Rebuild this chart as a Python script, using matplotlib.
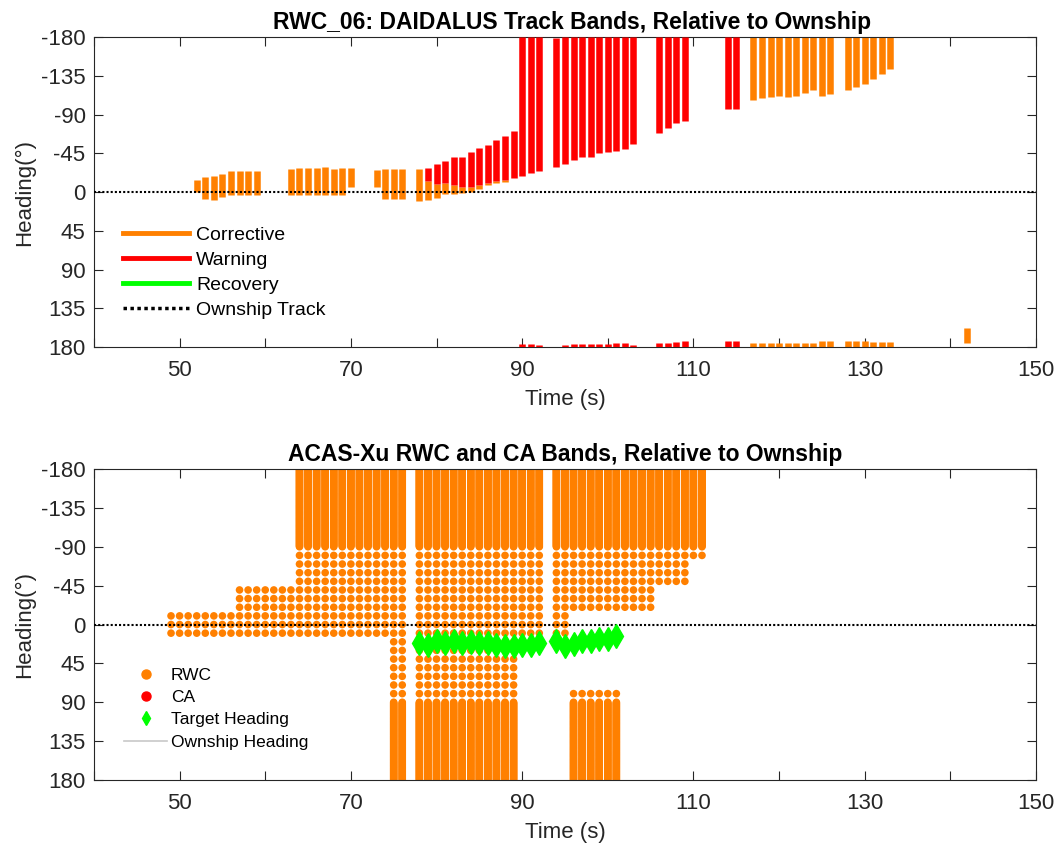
import numpy as np
import matplotlib
matplotlib.use('Agg')
import matplotlib.pyplot as plt
from matplotlib.lines import Line2D

plt.rcParams['font.family'] = ['Liberation Sans', 'DejaVu Sans']
plt.rcParams['axes.unicode_minus'] = False

# DAIDALUS corrective bands (one row per band): time, lower, upper heading
corr_time = [52, 53, 54, 55, 56, 57, 58, 59,
             63, 64, 65, 66, 67, 68, 69, 70,
             73, 74, 75, 76, 78,
             79, 80, 81, 82, 83, 84, 85, 86, 87, 88,
             117, 118, 119, 120, 121, 122, 123, 124, 125, 126,
             128, 129, 130, 131, 132, 133,
             117, 118, 119, 120, 121, 122, 123, 124, 125, 126,
             128, 129, 130, 131, 132, 133, 142]
corr_lo = [-14, -18, -19, -21, -24, -24, -25, -25,
           -27, -28, -28, -28, -29, -27, -28, -28,
           -26, -27, -27, -27, -27,
           -13, -9, -11, -8, -6, -6, -8, -11, -13, -14,
           -180, -180, -180, -180, -180, -180, -180, -180, -180, -180,
           -180, -180, -180, -180, -180, -180,
           175, 175, 175, 175, 175, 175, 175, 175, 173, 173,
           173, 173, 173, 174, 174, 174, 158]
corr_hi = [0, 8, 9, 6, 4, 4, 3, 3,
           3, 3, 3, 3, 3, 4, 4, -6,
           -6, 8, 8, 8, 10,
           9, 7, 2, 2, 1, 0, -4, -8, -10, -12,
           -107, -109, -110, -112, -110, -112, -115, -118, -112, -114,
           -119, -122, -126, -131, -137, -143,
           180, 180, 180, 180, 180, 180, 180, 180, 180, 180,
           180, 180, 180, 180, 180, 180, 175]

# DAIDALUS warning bands
warn_time = [79, 80, 81, 82, 83, 84, 85, 86, 87, 88, 89,
             90, 91, 92, 94, 95, 96, 97, 98, 99, 100, 101, 102, 103,
             106, 107, 108, 109, 114, 115,
             90, 91, 92, 95, 96, 97, 98, 99, 100, 101, 102, 103,
             106, 107, 108, 109, 114, 115]
warn_lo = [-28, -32, -36, -41, -41, -46, -51, -55, -60, -65, -71,
           -180, -180, -180, -179, -180, -180, -180, -180, -180, -180, -180, -180, -180,
           -180, -180, -180, -180, -180, -180,
           176, 176, 178, 178, 177, 177, 176, 176, 176, 175, 175, 178,
           175, 175, 174, 173, 173, 173]
warn_hi = [-13, -9, -11, -8, -6, -6, -8, -11, -13, -14, -16,
           -19, -22, -25, -29, -33, -37, -41, -41, -45, -46, -48, -50, -56,
           -68, -74, -80, -83, -96, -97,
           180, 180, 180, 180, 180, 180, 180, 180, 180, 180, 180, 180,
           180, 180, 180, 180, 180, 180]

# ACAS-Xu RWC bands: first time, last time, lower, upper heading
rwc_start = [49, 57, 64, 75, 78, 90, 94, 96, 96, 102, 106, 110]
rwc_end = [56, 63, 74, 76, 89, 92, 95, 101, 101, 105, 109, 111]
rwc_lo = [-10, -40, -180, -180, -180, -180, -180, -180, 80, -180, -180, -180]
rwc_hi = [10, 10, 10, 180, 180, 10, 10, -20, 180, -20, -50, -80]

# target heading relative to ownship
tgt_time = [78, 79, 80, 81, 82, 83, 84, 85, 86, 87, 88, 89, 90, 91, 92,
            94, 95, 96, 97, 98, 99, 100, 101]
tgt_hdg = [21.5, 23.4, 18.7, 21.5, 18.7, 21.5, 20.6, 21.5, 21.5, 23.4, 25.3, 25.3, 23.4, 23.4, 21.5,
           18.7, 25.3, 22.7, 19.5, 18.7, 16.4, 16.4, 13.7]

ORANGE = '#FF8000'
RED = '#FF0000'
GREEN = '#00FF00'
AXC = '#262626'

yticks = [-180, -135, -90, -45, 0, 45, 90, 135, 180]
xlabels = {50: '50', 70: '70', 90: '90', 110: '110', 130: '130', 150: '150'}


def style_axes(ax, title, title_x=0.5):
    ax.set_xlim(40, 150)
    ax.set_ylim(180, -180)
    ax.set_yticks(yticks)
    ax.set_yticklabels([str(v) for v in yticks])
    xt = list(range(40, 151, 10))
    ax.set_xticks(xt)
    ax.set_xticklabels([xlabels.get(v, '') for v in xt])
    ax.tick_params(direction='in', top=True, right=True, length=6.5, width=0.8,
                   color=AXC, labelcolor=AXC, labelsize=16)
    ax.tick_params(axis='y', pad=6)
    ax.tick_params(axis='x', pad=9)
    for s in ax.spines.values():
        s.set_color(AXC)
        s.set_linewidth(0.8)
    ax.set_xlabel('Time (s)', fontsize=16, color=AXC, labelpad=6)
    ax.set_ylabel('Heading(°)', fontsize=16, color=AXC, labelpad=4)
    ax.set_title(title, fontsize=16.5, fontweight='bold', pad=6, x=title_x)


fig = plt.figure(figsize=(10.58, 8.46), dpi=100)

# ---- top: DAIDALUS bands
ax1 = fig.add_axes([0.0888, 0.5898, 0.8904, 0.3664])
ax1.vlines(corr_time, corr_lo, corr_hi, colors=ORANGE, linewidth=4.7, capstyle='butt', zorder=2)
ax1.vlines(warn_time, warn_lo, warn_hi, colors=RED, linewidth=4.7, capstyle='butt', zorder=3)
ax1.plot([40, 150], [0, 0], color='k', linewidth=1.5, dashes=(1, 1), zorder=4)
style_axes(ax1, 'RWC_06: DAIDALUS Track Bands, Relative to Ownship', title_x=0.508)

h1 = [Line2D([], [], color=ORANGE, lw=3.5),
      Line2D([], [], color=RED, lw=3.5),
      Line2D([], [], color=GREEN, lw=3.5),
      Line2D([], [], color='k', lw=2.5, dashes=(1, 1))]
ax1.legend(h1, ['Corrective', 'Warning', 'Recovery', 'Ownship Track'],
           loc='upper left', bbox_to_anchor=(0.031, 0.39), frameon=False,
           fontsize=14, handlelength=3.4, handletextpad=0.35, labelspacing=0.38,
           borderpad=0, borderaxespad=0)

# ---- bottom: ACAS-Xu bands
ax2 = fig.add_axes([0.0888, 0.078, 0.8904, 0.3676])
dot_t, dot_h = [], []
for t0, t1, lo, hi in zip(rwc_start, rwc_end, rwc_lo, rwc_hi):
    coarse = [h for h in range(-80, 81, 10) if lo <= h <= hi]
    fine = [h for h in range(-180, 181) if abs(h) >= 90 and lo <= h <= hi]
    for t in range(t0, t1 + 1):
        for h in coarse + fine:
            dot_t.append(t)
            dot_h.append(h)
ax2.scatter(dot_t, dot_h, s=30, color=ORANGE, edgecolors='none', zorder=2)
ax2.plot([40, 150], [0, 0], color='k', linewidth=1.5, dashes=(1, 1), zorder=4)
ax2.plot(tgt_time, tgt_hdg, linestyle='none', marker='d', markersize=12,
         color=GREEN, markeredgecolor=GREEN, zorder=5)
style_axes(ax2, 'ACAS-Xu RWC and CA Bands, Relative to Ownship')

h2 = [Line2D([], [], linestyle='none', marker='o', markersize=6.5, color=ORANGE),
      Line2D([], [], linestyle='none', marker='o', markersize=6.5, color=RED),
      Line2D([], [], linestyle='none', marker='d', markersize=7.5, color=GREEN),
      Line2D([], [], color='#c8c8c8', lw=1.2)]
ax2.legend(h2, ['RWC', 'CA', 'Target Heading', 'Ownship Heading'],
           loc='upper left', bbox_to_anchor=(0.032, 0.362), frameon=False,
           fontsize=12.5, handlelength=2.5, handletextpad=0.2, labelspacing=0.42,
           borderpad=0, borderaxespad=0)

fig.savefig('out.png', dpi=100)
